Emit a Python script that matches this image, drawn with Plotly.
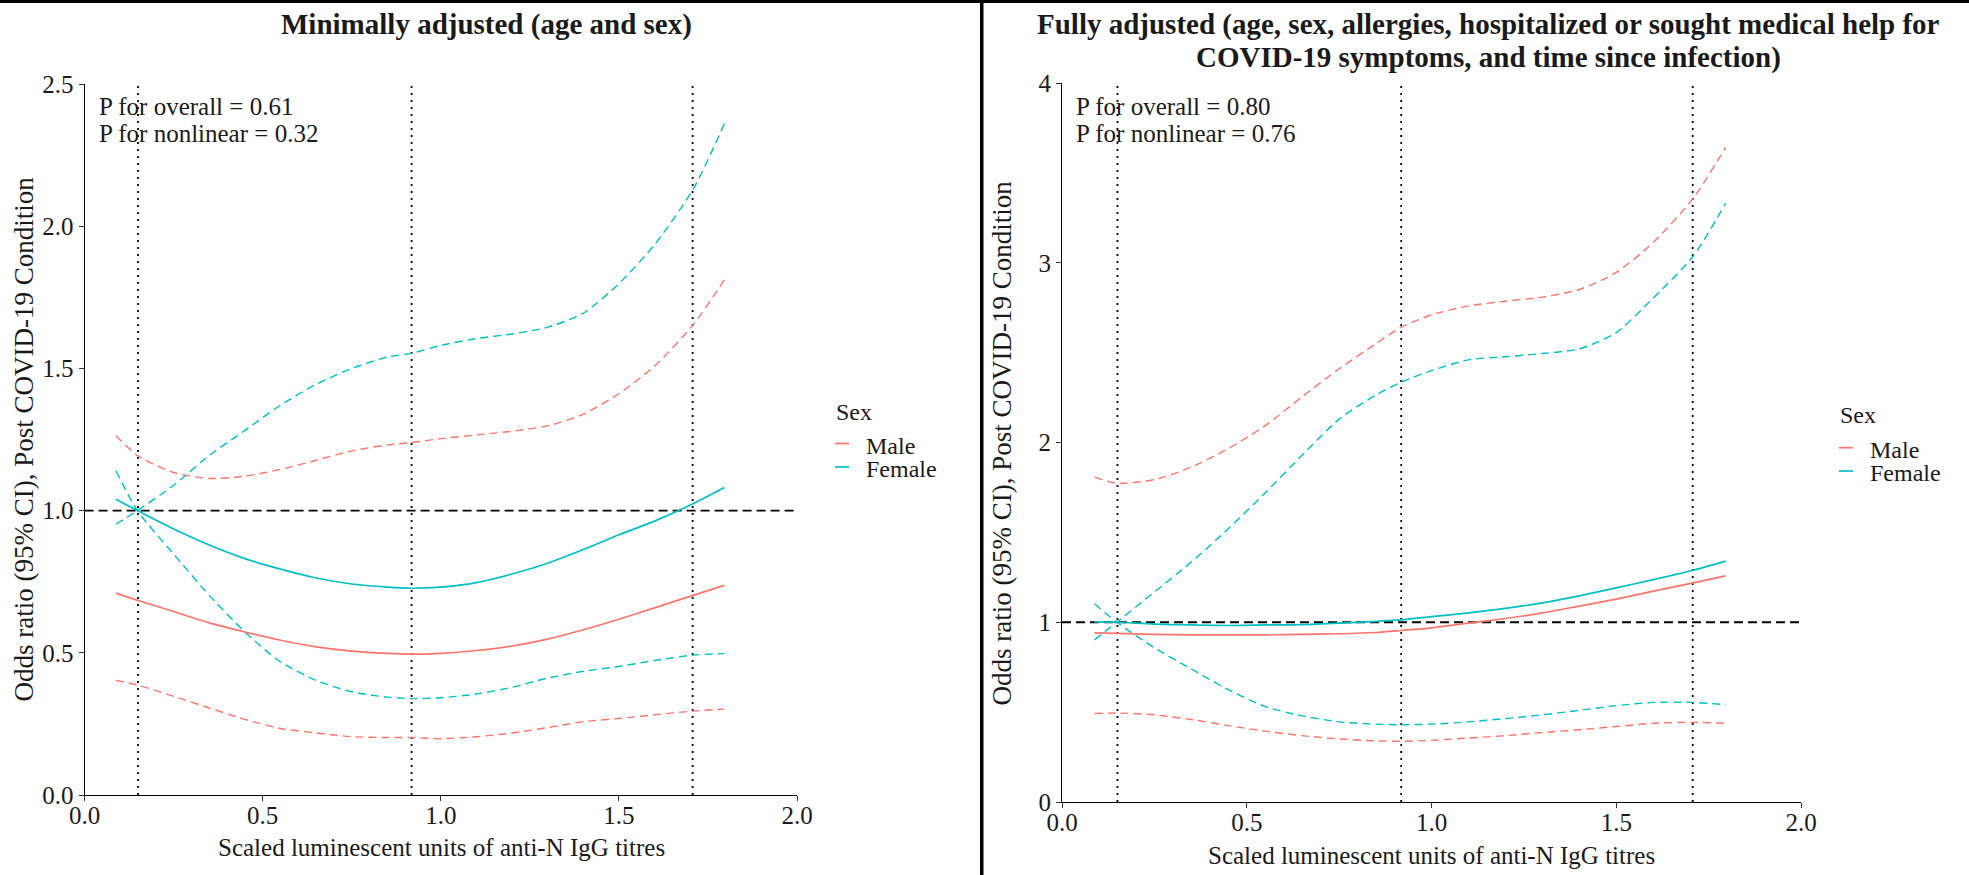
import plotly.graph_objects as go

# ---------------- data ----------------
x_titre = [0.088, 0.148, 0.25, 0.35, 0.45, 0.55, 0.65, 0.75, 0.85, 0.917,
           1.0, 1.1, 1.2, 1.3, 1.4, 1.5, 1.6, 1.708, 1.796]
knots = [0.15, 0.918, 1.707]

# Minimally adjusted
min_male = [0.710, 0.685, 0.645, 0.605, 0.573, 0.544, 0.521, 0.506, 0.498, 0.495,
            0.498, 0.508, 0.524, 0.548, 0.581, 0.618, 0.658, 0.702, 0.737]
min_male_lo = [0.403, 0.387, 0.347, 0.306, 0.266, 0.234, 0.218, 0.205, 0.202, 0.202,
               0.198, 0.205, 0.218, 0.237, 0.258, 0.269, 0.282, 0.295, 0.302]
min_male_hi = [1.263, 1.194, 1.134, 1.113, 1.121, 1.145, 1.177, 1.210, 1.231, 1.239,
               1.253, 1.266, 1.279, 1.298, 1.339, 1.411, 1.508, 1.653, 1.811]
min_female = [1.040, 1.000, 0.935, 0.879, 0.831, 0.794, 0.763, 0.742, 0.731, 0.727,
              0.731, 0.747, 0.777, 0.815, 0.863, 0.915, 0.963, 1.024, 1.081]
min_female_lo = [1.140, 1.000, 0.847, 0.702, 0.573, 0.468, 0.403, 0.363, 0.344, 0.339,
                 0.342, 0.355, 0.379, 0.411, 0.435, 0.452, 0.473, 0.492, 0.497]
min_female_hi = [0.952, 1.000, 1.089, 1.194, 1.282, 1.371, 1.444, 1.500, 1.540, 1.553,
                 1.581, 1.605, 1.621, 1.645, 1.694, 1.798, 1.935, 2.129, 2.360]

# Fully adjusted
full_male = [0.941, 0.938, 0.933, 0.930, 0.930, 0.930, 0.933, 0.936, 0.943, 0.954,
             0.969, 0.995, 1.021, 1.052, 1.090, 1.129, 1.173, 1.219, 1.258]
full_male_lo = [0.492, 0.495, 0.485, 0.459, 0.425, 0.394, 0.369, 0.351, 0.340, 0.338,
                0.343, 0.356, 0.369, 0.387, 0.402, 0.420, 0.438, 0.443, 0.438]
full_male_hi = [1.807, 1.773, 1.794, 1.863, 1.966, 2.094, 2.255, 2.410, 2.550, 2.640,
                2.710, 2.760, 2.786, 2.809, 2.851, 2.946, 3.113, 3.358, 3.642]
full_female = [1.002, 1.000, 0.990, 0.985, 0.982, 0.985, 0.987, 0.995, 1.005, 1.013,
               1.031, 1.052, 1.077, 1.108, 1.147, 1.191, 1.237, 1.289, 1.340]
full_female_lo = [1.103, 1.000, 0.858, 0.740, 0.625, 0.531, 0.479, 0.446, 0.433, 0.430,
                  0.433, 0.446, 0.464, 0.485, 0.510, 0.536, 0.554, 0.554, 0.541]
full_female_hi = [0.902, 1.000, 1.168, 1.335, 1.520, 1.720, 1.930, 2.130, 2.265, 2.335,
                  2.400, 2.460, 2.477, 2.495, 2.521, 2.611, 2.804, 3.036, 3.332]

x_ticks = [0.0, 0.5, 1.0, 1.5, 2.0]
y_ticks_left = [0.0, 0.5, 1.0, 1.5, 2.0, 2.5]
y_ticks_right = [0, 1, 2, 3, 4]
sexes = ["Male", "Female"]

# ---------------- style ----------------
W, H = 1969, 875
RED, CYAN = "#F8766D", "#00BFC4"
FONT = "'Liberation Serif', 'Times New Roman', Times, serif"
TXT = "#1a1a1a"


def fx(p):
    return p / W


def fy(p):
    return 1 - p / H


fig = go.Figure()


def add_panel(xa, ya, ymax, series):
    # reference line and knots
    fig.add_trace(go.Scatter(x=[0, 2], y=[1, 1], xaxis=xa, yaxis=ya, mode="lines",
                             line=dict(color="black", width=1.8, dash="9px,5px"),
                             showlegend=False, hoverinfo="skip"))
    for k in knots:
        fig.add_trace(go.Scatter(x=[k, k], y=[0, ymax], xaxis=xa, yaxis=ya, mode="lines",
                                 line=dict(color="black", width=1.8, dash="2px,5px"),
                                 showlegend=False, hoverinfo="skip"))
    for name, color, mid, lo, hi in series:
        for band in (lo, hi):
            fig.add_trace(go.Scatter(x=x_titre, y=band, xaxis=xa, yaxis=ya, mode="lines",
                                     line=dict(color=color, width=1.4, dash="8px,5px",
                                               shape="spline", smoothing=0.7),
                                     showlegend=False, hoverinfo="skip"))
    for name, color, mid, lo, hi in series:
        fig.add_trace(go.Scatter(x=x_titre, y=mid, xaxis=xa, yaxis=ya, mode="lines",
                                 name=name, showlegend=False,
                                 line=dict(color=color, width=1.7, shape="spline", smoothing=0.7)))


add_panel("x", "y", 2.5, [
    (sexes[0], RED, min_male, min_male_lo, min_male_hi),
    (sexes[1], CYAN, min_female, min_female_lo, min_female_hi),
])
add_panel("x2", "y2", 4, [
    (sexes[0], RED, full_male, full_male_lo, full_male_hi),
    (sexes[1], CYAN, full_female, full_female_lo, full_female_hi),
])

axis_common = dict(showline=True, linecolor="black", linewidth=1, ticks="outside",
                   ticklen=5, tickcolor="#333333", tickwidth=1, showgrid=False,
                   zeroline=False, automargin=False,
                   tickfont=dict(family=FONT, size=25, color=TXT), fixedrange=True)
x_extra = dict(ticklabelstandoff=-7)

fig.update_layout(
    template="none",
    width=W, height=H, margin=dict(l=0, r=0, t=0, b=0, pad=0, autoexpand=False),
    paper_bgcolor="white", plot_bgcolor="white",
    font=dict(family=FONT, color=TXT),
    showlegend=False,
    xaxis=dict(domain=[fx(84.6), fx(797)], range=[0, 2], anchor="y",
               tickvals=x_ticks, ticktext=[f"{v:.1f}" for v in x_ticks], **axis_common, **x_extra),
    yaxis=dict(domain=[fy(795), fy(84)], range=[0, 2.5], anchor="x",
               tickvals=y_ticks_left, ticktext=[f"{v:.1f}" for v in y_ticks_left], **axis_common),
    xaxis2=dict(domain=[fx(1062), fx(1801)], range=[0, 2], anchor="y2",
                tickvals=x_ticks, ticktext=[f"{v:.1f}" for v in x_ticks], **axis_common, **x_extra),
    yaxis2=dict(domain=[fy(802), fy(83)], range=[0, 4], anchor="x2",
                tickvals=y_ticks_right, ticktext=[str(v) for v in y_ticks_right], **axis_common),
)


def text(t, x, y, size, xanchor="center", angle=0, bold=False):
    fig.add_annotation(text=f"<b>{t}</b>" if bold else t, x=fx(x), y=fy(y),
                       xref="paper", yref="paper", xanchor=xanchor, yanchor="middle",
                       textangle=angle, showarrow=False, borderpad=0,
                       font=dict(family=FONT, size=size, color=TXT))


# panel titles
text("Minimally adjusted (age and sex)", 486, 24, 29, bold=True)
text("Fully adjusted (age, sex, allergies, hospitalized or sought medical help for", 1488, 24, 29, bold=True)
text("COVID-19 symptoms, and time since infection)", 1488, 58, 29, bold=True)

# axis titles
XT = "Scaled luminescent units of anti-N IgG titres"
YT = "Odds ratio (95% CI), Post COVID-19 Condition"
text(XT, 441, 847, 25)
text(XT, 1431.5, 855, 25)
text(YT, 23, 439.5, 27, angle=-90)
text(YT, 1002, 442.5, 27, angle=-90)

# p-values
p_texts = [("P for overall = 0.61", "P for nonlinear = 0.32", 97.5),
           ("P for overall = 0.80", "P for nonlinear = 0.76", 1075)]
for t1, t2, xl in p_texts:
    text(t1, xl, 106.5, 25, xanchor="left")
    text(t2, xl, 133.5, 25, xanchor="left")

# legends (Sex: Male / Female)
legend_pos = [(835, 412, 443.5, 467), (1839, 415, 447.7, 471)]
for lx, ty, y_m, y_f in legend_pos:
    text("Sex", lx, ty, 24, xanchor="left")
    for name, color, yy in ((sexes[0], RED, y_m), (sexes[1], CYAN, y_f)):
        fig.add_shape(type="line", xref="paper", yref="paper", x0=fx(lx), x1=fx(lx + 14),
                      y0=fy(yy), y1=fy(yy), line=dict(color=color, width=1.7))
        text(name, lx + 30, yy + 2, 24, xanchor="left")

# frame lines (top border and panel divider)
fig.add_shape(type="rect", xref="paper", yref="paper", x0=0, x1=1, y0=fy(3), y1=1,
              fillcolor="black", line=dict(width=0))
fig.add_shape(type="rect", xref="paper", yref="paper", x0=fx(980), x1=fx(983.5), y0=0, y1=1,
              fillcolor="black", line=dict(width=0))

fig.write_html("out.html")
